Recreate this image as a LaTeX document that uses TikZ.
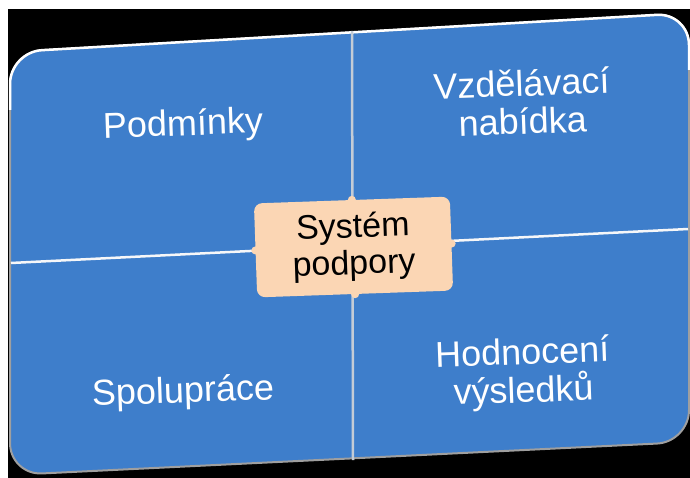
\documentclass[tikz,border=0pt]{standalone}
\usepackage{fontspec}
\setmainfont{Liberation Sans}
\definecolor{tileblue}{RGB}{62,126,203}
\definecolor{peach}{RGB}{251,214,180}
\definecolor{seam}{RGB}{196,204,214}
\begin{document}
\begin{tikzpicture}[x=1pt,y=-1pt,
    tilelabel/.style={text=white,font=\fontsize{36}{38}\selectfont,align=center,rotate=2,inner sep=0pt},
    hubbox/.style={fill=peach,rounded corners=8pt,rotate=2,minimum width=196pt,minimum height=94pt,
        font=\fontsize{34}{37}\selectfont,align=center,inner sep=0pt}]
    \useasboundingbox (0,0) rectangle (690,478);
    \path[fill=white] (0,0) rectangle (690,478);
    \path[fill=black] (8,9) rectangle (690,478);

    \path[fill=tileblue,draw=gray!75,line width=2pt,rounded corners=32pt]
        (10,52) -- (689,13) -- (689,442) -- (10,475) -- cycle;
    \path[draw=white,line width=2.5pt,rounded corners=32pt]
        (10,110) -- (10,52) -- (689,13) -- (689,70);

    \path[draw=seam,line width=2.5pt] (352,31) -- (353,460);
    \path[draw=white!85!seam,line width=2.5pt] (11,263) -- (688,229);

    \foreach \name/\pos/\txt in {cond/{183,126}/{Podmínky},
                                 offer/{522,102}/{Vzdělávací\\nabídka},
                                 coop/{183,393}/{Spolupráce},
                                 eval/{523,374}/{Hodnocení\\výsledků}}
        \node[tilelabel] (\name) at (\pos) {\txt};

    \node[hubbox] (hub) at (353.5,247) {Systém\\podpory};
    \foreach \a in {north,south,east,west}
        \path[fill=peach] (hub.\a) circle (4pt);

\end{tikzpicture}
\end{document}
